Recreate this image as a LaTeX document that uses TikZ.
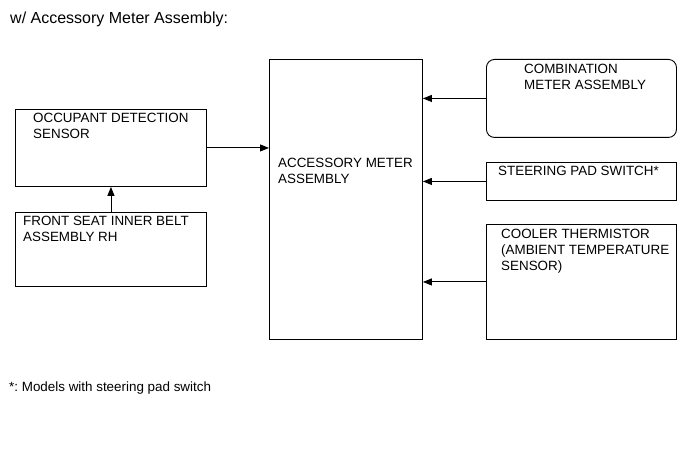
\documentclass[tikz,border=0pt]{standalone}
\usepackage{fontspec}
\setmainfont{Liberation Sans}
\usetikzlibrary{arrows.meta}
\begin{document}
\frenchspacing
\begin{tikzpicture}[x=1pt,y=-1pt,
  box/.style={draw, line width=0.9pt, anchor=north west, inner sep=0pt},
  txt/.style={anchor=north west, inner sep=0pt, align=left, font=\fontsize{13.4}{16}\selectfont},
  arr/.style={line width=0.9pt, -{Triangle[length=9pt,width=7pt]}}]
\useasboundingbox (0,0) rectangle (691,465);
\node[txt, font=\fontsize{16}{18}\selectfont] (title) at (10,12) {w/ Accessory Meter Assembly:};
% boxes
\node[box, minimum width=191pt, minimum height=77pt] (occ) at (15,109) {};
\node[box, minimum width=191pt, minimum height=74pt] (front) at (15,212) {};
\node[box, minimum width=153pt, minimum height=280pt] (acc) at (269,59) {};
\node[box, rounded corners=8pt, minimum width=190pt, minimum height=78pt] (comb) at (486,59) {};
\node[box, minimum width=190pt, minimum height=38pt] (steer) at (486,162) {};
\node[box, minimum width=190pt, minimum height=115pt] (cool) at (486,224) {};
% texts
\node[txt] (occt) at (33,113) {OCCUPANT DETECTION\\SENSOR};
\node[txt] (frontt) at (23,216) {FRONT SEAT INNER BELT\\ASSEMBLY RH};
\node[txt] (acct) at (278,158) {ACCESSORY METER\\ASSEMBLY};
\node[txt] (combt) at (524,64) {COMBINATION\\METER ASSEMBLY};
\node[txt] (steert) at (498,166) {STEERING PAD SWITCH*};
\node[txt] (coolt) at (501,229) {COOLER THERMISTOR\\(AMBIENT TEMPERATURE\\SENSOR)};
\node[txt] (note) at (9,382) {*: Models with steering pad switch};
% connectors
\draw[arr] (front.north) -- (occ.south);
\draw[arr] (occ.east) -- (occ.east -| acc.west);
\draw[arr] (comb.west) -- (comb.west -| acc.east);
\draw[arr] (steer.west) -- (steer.west -| acc.east);
\draw[arr] (cool.west) -- (cool.west -| acc.east);
\end{tikzpicture}
\end{document}
